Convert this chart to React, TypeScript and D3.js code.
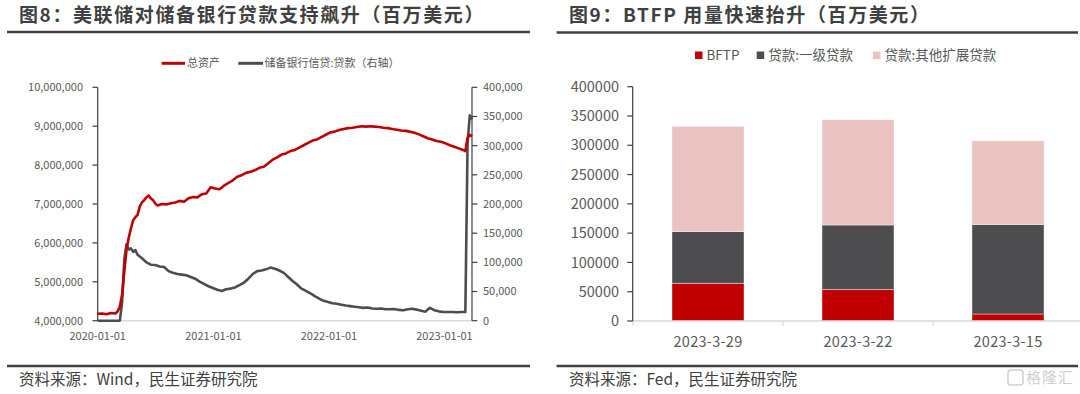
import React from "react";
import * as d3 from "d3";

// 图8: weekly H.4.1 (millions USD)
const totalAssets: [string, number][] = [
    ["2020-01-01", 4180000], ["2020-01-15", 4185000], ["2020-01-29", 4165000], ["2020-02-12", 4200000],
    ["2020-02-26", 4185000], ["2020-03-04", 4240000], ["2020-03-11", 4360000], ["2020-03-18", 4670000],
    ["2020-03-25", 5250000], ["2020-04-01", 5820000], ["2020-04-08", 6130000], ["2020-04-15", 6370000],
    ["2020-04-22", 6580000], ["2020-04-29", 6660000], ["2020-05-06", 6720000], ["2020-05-13", 6940000],
    ["2020-05-20", 7040000], ["2020-05-27", 7100000], ["2020-06-03", 7170000], ["2020-06-10", 7220000],
    ["2020-06-17", 7140000], ["2020-06-24", 7100000], ["2020-07-01", 7010000], ["2020-07-08", 6960000],
    ["2020-07-22", 7000000], ["2020-08-05", 6990000], ["2020-08-19", 7020000], ["2020-09-02", 7040000],
    ["2020-09-16", 7080000], ["2020-09-30", 7060000], ["2020-10-14", 7150000], ["2020-10-28", 7180000],
    ["2020-11-11", 7170000], ["2020-11-25", 7250000], ["2020-12-09", 7270000], ["2020-12-23", 7430000],
    ["2021-01-06", 7400000], ["2021-01-20", 7380000], ["2021-02-03", 7470000], ["2021-02-17", 7540000],
    ["2021-03-03", 7610000], ["2021-03-17", 7700000], ["2021-03-31", 7740000], ["2021-04-14", 7800000],
    ["2021-04-28", 7830000], ["2021-05-12", 7870000], ["2021-05-26", 7930000], ["2021-06-09", 7960000],
    ["2021-06-23", 8050000], ["2021-07-07", 8140000], ["2021-07-21", 8200000], ["2021-08-04", 8270000],
    ["2021-08-18", 8300000], ["2021-09-01", 8360000], ["2021-09-15", 8390000], ["2021-09-29", 8450000],
    ["2021-10-13", 8510000], ["2021-10-27", 8570000], ["2021-11-10", 8630000], ["2021-11-24", 8660000],
    ["2021-12-08", 8720000], ["2021-12-22", 8780000], ["2022-01-05", 8840000], ["2022-01-19", 8860000],
    ["2022-02-02", 8900000], ["2022-02-16", 8930000], ["2022-03-02", 8950000], ["2022-03-16", 8960000],
    ["2022-03-30", 8980000], ["2022-04-13", 9000000], ["2022-04-27", 8990000], ["2022-05-11", 9000000],
    ["2022-05-25", 8990000], ["2022-06-08", 8980000], ["2022-06-22", 8960000], ["2022-07-06", 8950000],
    ["2022-07-20", 8930000], ["2022-08-03", 8910000], ["2022-08-17", 8890000], ["2022-08-31", 8880000],
    ["2022-09-14", 8860000], ["2022-09-28", 8830000], ["2022-10-12", 8790000], ["2022-10-26", 8740000],
    ["2022-11-09", 8690000], ["2022-11-23", 8660000], ["2022-12-07", 8620000], ["2022-12-21", 8600000],
    ["2023-01-04", 8560000], ["2023-01-18", 8510000], ["2023-02-01", 8470000], ["2023-02-15", 8430000],
    ["2023-03-01", 8390000], ["2023-03-08", 8360000], ["2023-03-15", 8700000], ["2023-03-22", 8780000],
    ["2023-03-29", 8740000],
];

const reserveLoans: [string, number][] = [
    ["2020-01-01", 0], ["2020-02-05", 0], ["2020-03-11", 0], ["2020-03-18", 30000],
    ["2020-03-25", 105000], ["2020-04-01", 131000], ["2020-04-08", 122000], ["2020-04-15", 124000],
    ["2020-04-22", 118000], ["2020-04-29", 121000], ["2020-05-06", 113000], ["2020-05-20", 107000],
    ["2020-06-03", 100000], ["2020-06-17", 96000], ["2020-07-01", 95500], ["2020-07-15", 93000],
    ["2020-07-29", 92000], ["2020-08-12", 85000], ["2020-08-26", 82000], ["2020-09-09", 80000],
    ["2020-09-23", 79000], ["2020-10-07", 78000], ["2020-10-21", 75000], ["2020-11-04", 72000],
    ["2020-11-18", 67000], ["2020-12-02", 63000], ["2020-12-16", 59000], ["2020-12-30", 56000],
    ["2021-01-13", 53000], ["2021-01-27", 51000], ["2021-02-10", 54000], ["2021-02-24", 55000],
    ["2021-03-10", 57000], ["2021-03-24", 61000], ["2021-04-07", 65000], ["2021-04-21", 72000],
    ["2021-05-05", 80000], ["2021-05-19", 85000], ["2021-06-02", 86000], ["2021-06-16", 88000],
    ["2021-06-30", 91000], ["2021-07-14", 89000], ["2021-07-28", 86000], ["2021-08-11", 82000],
    ["2021-08-25", 75000], ["2021-09-08", 68000], ["2021-09-22", 62000], ["2021-10-06", 55000],
    ["2021-10-20", 51000], ["2021-11-03", 47000], ["2021-11-17", 42000], ["2021-12-01", 38000],
    ["2021-12-15", 34000], ["2021-12-29", 32000], ["2022-01-12", 30000], ["2022-01-26", 29000],
    ["2022-02-09", 27500], ["2022-02-23", 26000], ["2022-03-09", 25000], ["2022-03-23", 24000],
    ["2022-04-06", 23000], ["2022-04-20", 22000], ["2022-05-04", 22500], ["2022-05-18", 21000],
    ["2022-06-01", 20500], ["2022-06-15", 21000], ["2022-06-29", 19500], ["2022-07-13", 19500],
    ["2022-07-27", 20000], ["2022-08-10", 18500], ["2022-08-24", 18000], ["2022-09-07", 19500],
    ["2022-09-21", 20500], ["2022-10-05", 19000], ["2022-10-19", 17000], ["2022-11-02", 15500],
    ["2022-11-09", 19000], ["2022-11-16", 22000], ["2022-11-30", 18000], ["2022-12-14", 16000],
    ["2022-12-28", 15000], ["2023-01-11", 15000], ["2023-01-25", 15000], ["2023-02-08", 14500],
    ["2023-02-22", 15000], ["2023-03-08", 15000], ["2023-03-15", 305000], ["2023-03-22", 352000],
    ["2023-03-29", 345000],
];

const leftTicks = [4000000, 5000000, 6000000, 7000000, 8000000, 9000000, 10000000];
const rightTicks = [0, 50000, 100000, 150000, 200000, 250000, 300000, 350000, 400000];
const yearTicks = ["2020-01-01", "2021-01-01", "2022-01-01", "2023-01-01"];

// 图9: BTFP and discount window (millions USD)
const barDates = ["2023-3-29", "2023-3-22", "2023-3-15"];
const btfp = [64403, 53669, 11943];
const primaryCredit = [88185, 110243, 152853];
const otherCredit = [179787, 179766, 142800];
const barTicks = [0, 50000, 100000, 150000, 200000, 250000, 300000, 350000, 400000];
const barSeries = ["BFTP", "贷款:一级贷款", "贷款:其他扩展贷款"];

const FONT = "'Noto Sans CJK SC', 'Microsoft YaHei', sans-serif";
const RED = "#C00000";
const DARK = "#4D4D4F";
const PINK = "#EAC2C2";
const TXT = "#595959";

const parse = d3.timeParse("%Y-%m-%d");

const LeftChart = () => {
    const x = d3.scaleTime()
        .domain([parse("2020-01-01")!, parse("2023-03-29")!])
        .range([97.7, 472]);
    const yL = d3.scaleLinear().domain([4000000, 10000000]).range([320.7, 87.3]);
    const yR = d3.scaleLinear().domain([0, 400000]).range([320.7, 87.3]);
    const fmt = d3.format(",");

    const lineL = d3.line<[string, number]>()
        .x(d => x(parse(d[0])!))
        .y(d => yL(d[1]));
    const lineR = d3.line<[string, number]>()
        .x(d => x(parse(d[0])!))
        .y(d => yR(d[1]));

    return (
        <g fontFamily={FONT}>
            <text x={19} y={22} fontSize={19} fontWeight="bold" fill="#404040" letterSpacing={1.6}>
                图8：美联储对储备银行贷款支持飙升（百万美元）
            </text>
            <line x1={7} x2={530} y1={32} y2={32} stroke="#404040" strokeWidth={2.5}/>

            {/* legend */}
            <line x1={161.7} x2={185} y1={63.3} y2={63.3} stroke={RED} strokeWidth={3}/>
            <text x={187} y={63.3} dy="0.35em" fontSize={11} fill={TXT}>总资产</text>
            <line x1={238.3} x2={263} y1={63.3} y2={63.3} stroke={DARK} strokeWidth={3}/>
            <text x={264.5} y={63.3} dy="0.35em" fontSize={11} fill={TXT}>储备银行信贷:贷款（右轴）</text>

            {/* axes */}
            <line x1={x.range()[0]} x2={x.range()[1]} y1={320.7} y2={320.7} stroke="#d9d9d9" strokeWidth={1.5}/>
            <line x1={97.7} x2={97.7} y1={87.3} y2={320.7} stroke="#404040" strokeWidth={1.2}/>
            <line x1={472} x2={472} y1={87.3} y2={320.7} stroke="#404040" strokeWidth={1.2}/>
            {leftTicks.map(t => (
                <g key={t}>
                    <line x1={92.5} x2={97.7} y1={yL(t)} y2={yL(t)} stroke="#404040" strokeWidth={1.2}/>
                    <text x={83} y={yL(t)} dy="0.35em" textAnchor="end" fontSize={11} fill={TXT}>{fmt(t)}</text>
                </g>
            ))}
            {rightTicks.map(t => (
                <g key={t}>
                    <line x1={472} x2={477.3} y1={yR(t)} y2={yR(t)} stroke="#404040" strokeWidth={1.2}/>
                    <text x={483} y={yR(t)} dy="0.35em" fontSize={11} fill={TXT}>{fmt(t)}</text>
                </g>
            ))}
            {yearTicks.map(t => (
                <text key={t} x={x(parse(t)!)} y={336} dy="0.35em" textAnchor="middle" fontSize={11} fill={TXT}>{t}</text>
            ))}

            <path d={lineR(reserveLoans) ?? ""} fill="none" stroke={DARK} strokeWidth={2.6} strokeLinejoin="round"/>
            <path d={lineL(totalAssets) ?? ""} fill="none" stroke={RED} strokeWidth={2.6} strokeLinejoin="round"/>

            <line x1={7} x2={530} y1={366} y2={366} stroke="#404040" strokeWidth={2.5}/>
            <text x={19} y={380} dy="0.35em" fontSize={15.5} fill="#404040">资料来源：Wind，民生证券研究院</text>
        </g>
    );
};

const RightChart = () => {
    const x = d3.scaleBand<string>().domain(barDates).range([633, 1083]).paddingInner(0.52).paddingOuter(0.26);
    const y = d3.scaleLinear().domain([0, 400000]).range([321, 86.7]);

    const rows = barDates.map((d, i) => ({date: d, a: btfp[i], b: primaryCredit[i], c: otherCredit[i]}));
    const stacked = d3.stack<any>().keys(["a", "b", "c"])(rows);
    const colors = [RED, DARK, PINK];
    const legendX = [695, 756.7, 873];

    return (
        <g fontFamily={FONT}>
            <text x={569} y={22} fontSize={19} fontWeight="bold" fill="#404040" letterSpacing={1.6}>
                图9：BTFP 用量快速抬升（百万美元）
            </text>
            <line x1={556.6} x2={1078} y1={32.5} y2={32.5} stroke="#404040" strokeWidth={2.5}/>

            {barSeries.map((s, i) => (
                <g key={s}>
                    <rect x={legendX[i]} y={51.5} width={7.5} height={7.5} fill={colors[i]}/>
                    <text x={legendX[i] + 11.5} y={55.3} dy="0.35em" fontSize={13.5} fill={TXT}>{s}</text>
                </g>
            ))}

            {stacked.map((layer, li) => layer.map((d, i) => (
                <rect key={`${li}-${i}`} x={x(barDates[i])} width={x.bandwidth()}
                      y={y(d[1])} height={y(d[0]) - y(d[1])}
                      fill={colors[li]} stroke="#ffffff" strokeOpacity={0.5} strokeWidth={0.8}/>
            )))}

            <line x1={633} x2={1080} y1={321} y2={321} stroke="#d9d9d9" strokeWidth={1.5}/>
            {barDates.map(d => (
                <line key={d} x1={(x(d) ?? 0) - x.step() * 0.26} x2={(x(d) ?? 0) - x.step() * 0.26}
                      y1={321} y2={326} stroke="#d9d9d9" strokeWidth={1.2}/>
            ))}
            <line x1={632.7} x2={632.7} y1={86.7} y2={321} stroke="#404040" strokeWidth={1.2}/>
            {barTicks.map(t => (
                <g key={t}>
                    <line x1={627.3} x2={632.7} y1={y(t)} y2={y(t)} stroke="#404040" strokeWidth={1.2}/>
                    <text x={619} y={y(t)} dy="0.35em" textAnchor="end" fontSize={14.5} fill={TXT}>{t}</text>
                </g>
            ))}
            {barDates.map(d => (
                <text key={d} x={(x(d) ?? 0) + x.bandwidth() / 2} y={341.7} dy="0.35em" textAnchor="middle"
                      fontSize={14.5} fill={TXT} letterSpacing={0.3}>{d}</text>
            ))}

            <line x1={556.6} x2={1078} y1={366} y2={366} stroke="#404040" strokeWidth={2.5}/>
            <text x={569} y={380} dy="0.35em" fontSize={15.5} fill="#404040">资料来源：Fed，民生证券研究院</text>

            {/* watermark */}
            <rect x={1008} y={370} width={15} height={15} rx={3} fill="none" stroke="#cfcfcf" strokeWidth={1.5}/>
            <text x={1026} y={377.5} dy="0.35em" fontSize={15} fill="#d0d0d0" letterSpacing={1}>格隆汇</text>
        </g>
    );
};

export default function App() {
    return (
        <svg width={1080} height={394} style={{position: "absolute", left: 0, top: 0, background: "#fff"}}>
            <LeftChart/>
            <RightChart/>
        </svg>
    );
}
